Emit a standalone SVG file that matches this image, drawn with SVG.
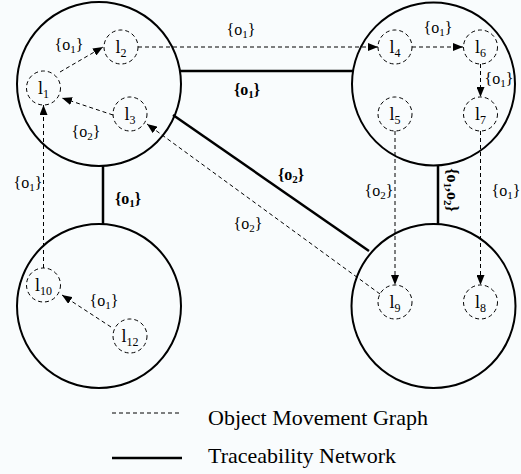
<svg xmlns="http://www.w3.org/2000/svg" width="521" height="474" viewBox="0 0 521 474">
<style>
.bg{fill:#f9fcfd}
.big{fill:none;stroke:#000;stroke-width:2}
.loc{fill:none;stroke:#000;stroke-width:1;stroke-dasharray:4 3}
.dash{fill:none;stroke:#000;stroke-width:1;stroke-dasharray:4 3}
.solid{fill:none;stroke:#000;stroke-width:2.5}
text{font-family:"Liberation Serif","Times New Roman","DejaVu Serif",serif;fill:#000}
.nl{font-size:18px;text-anchor:middle}
.sub{font-size:12px}
.lab{font-size:16px;text-anchor:middle}
.lsub{font-size:11px}
.bl{font-size:16px;font-weight:bold;text-anchor:middle}
.leg{font-size:22px}
</style>
<defs>
<marker id="ah" markerWidth="10" markerHeight="8" refX="10" refY="4" orient="auto" markerUnits="userSpaceOnUse">
<path d="M0,0 L10,4 L0,8 z" fill="#000"/>
</marker>
</defs>
<rect class="bg" x="0" y="0" width="521" height="474"/>

<g id="connectors">
<line class="solid" x1="180" y1="71" x2="353" y2="71"/>
<line class="solid" x1="103" y1="166" x2="103" y2="225"/>
<line class="solid" x1="438" y1="165" x2="438" y2="225"/>
<line class="solid" x1="173" y1="115" x2="369" y2="251"/>
<line class="dash" x1="60" y1="72" x2="103" y2="47" marker-end="url(#ah)"/>
<line class="dash" x1="113" y1="115" x2="62" y2="98" marker-end="url(#ah)"/>
<line class="dash" x1="138" y1="47" x2="378" y2="47" marker-end="url(#ah)"/>
<line class="dash" x1="412" y1="47" x2="463" y2="47" marker-end="url(#ah)"/>
<line class="dash" x1="480.5" y1="64" x2="480.5" y2="97" marker-end="url(#ah)"/>
<line class="dash" x1="395" y1="131" x2="395" y2="285" marker-end="url(#ah)"/>
<line class="dash" x1="480.5" y1="131" x2="480.5" y2="285" marker-end="url(#ah)"/>
<line class="dash" x1="43.5" y1="268" x2="43.5" y2="105" marker-end="url(#ah)"/>
<line class="dash" x1="111" y1="327" x2="62" y2="295" marker-end="url(#ah)"/>
<line class="dash" x1="380" y1="294" x2="147" y2="124" marker-end="url(#ah)"/>
<text class="bl" x="247" y="95">{o<tspan class="lsub" dy="3">1</tspan><tspan dy="-3">}</tspan></text>
<text class="bl" x="128" y="204">{o<tspan class="lsub" dy="3">1</tspan><tspan dy="-3">}</tspan></text>
<text class="bl" x="291" y="180">{o<tspan class="lsub" dy="3">2</tspan><tspan dy="-3">}</tspan></text>
<text class="bl" transform="translate(447,190) rotate(90)" x="0" y="0">{o<tspan class="lsub" dy="3">1</tspan><tspan dy="-3">,o</tspan><tspan class="lsub" dy="3">2</tspan><tspan dy="-3">}</tspan></text>
<text class="lab" x="69" y="50">{o<tspan class="lsub" dy="3">1</tspan><tspan dy="-3">}</tspan></text>
<text class="lab" x="86" y="137">{o<tspan class="lsub" dy="3">2</tspan><tspan dy="-3">}</tspan></text>
<text class="lab" x="28" y="188">{o<tspan class="lsub" dy="3">1</tspan><tspan dy="-3">}</tspan></text>
<text class="lab" x="241" y="35">{o<tspan class="lsub" dy="3">1</tspan><tspan dy="-3">}</tspan></text>
<text class="lab" x="438" y="33">{o<tspan class="lsub" dy="3">1</tspan><tspan dy="-3">}</tspan></text>
<text class="lab" x="499" y="84">{o<tspan class="lsub" dy="3">1</tspan><tspan dy="-3">}</tspan></text>
<text class="lab" x="379" y="196">{o<tspan class="lsub" dy="3">2</tspan><tspan dy="-3">}</tspan></text>
<text class="lab" x="506" y="196">{o<tspan class="lsub" dy="3">1</tspan><tspan dy="-3">}</tspan></text>
<text class="lab" x="248" y="229">{o<tspan class="lsub" dy="3">2</tspan><tspan dy="-3">}</tspan></text>
<text class="lab" x="104" y="306">{o<tspan class="lsub" dy="3">1</tspan><tspan dy="-3">}</tspan></text>
</g>

<g id="site-tl"><circle class="big" cx="99" cy="84" r="82"/></g>
<g id="site-tr"><circle class="big" cx="433.5" cy="84" r="81.5"/></g>
<g id="site-bl"><circle class="big" cx="99" cy="306" r="82"/></g>
<g id="site-br"><circle class="big" cx="433.5" cy="306" r="82"/></g>

<g id="l1"><circle class="loc" cx="43.5" cy="88" r="17"/><text class="nl" x="43.5" y="94">l<tspan class="sub" dy="4">1</tspan></text></g>
<g id="l2"><circle class="loc" cx="121" cy="47" r="17"/><text class="nl" x="121" y="53">l<tspan class="sub" dy="4">2</tspan></text></g>
<g id="l3"><circle class="loc" cx="130" cy="114" r="17"/><text class="nl" x="130" y="120">l<tspan class="sub" dy="4">3</tspan></text></g>
<g id="l4"><circle class="loc" cx="395" cy="47" r="17"/><text class="nl" x="395" y="53">l<tspan class="sub" dy="4">4</tspan></text></g>
<g id="l6"><circle class="loc" cx="480.5" cy="47" r="17"/><text class="nl" x="480.5" y="53">l<tspan class="sub" dy="4">6</tspan></text></g>
<g id="l5"><circle class="loc" cx="395" cy="114" r="17"/><text class="nl" x="395" y="120">l<tspan class="sub" dy="4">5</tspan></text></g>
<g id="l7"><circle class="loc" cx="480.5" cy="114" r="17"/><text class="nl" x="480.5" y="120">l<tspan class="sub" dy="4">7</tspan></text></g>
<g id="l9"><circle class="loc" cx="395" cy="302" r="17"/><text class="nl" x="395" y="308">l<tspan class="sub" dy="4">9</tspan></text></g>
<g id="l8"><circle class="loc" cx="480.5" cy="302" r="17"/><text class="nl" x="480.5" y="308">l<tspan class="sub" dy="4">8</tspan></text></g>
<g id="l10"><circle class="loc" cx="43.5" cy="285" r="17"/><text class="nl" x="43.5" y="291">l<tspan class="sub" dy="4">10</tspan></text></g>
<g id="l12"><circle class="loc" cx="130" cy="336" r="17"/><text class="nl" x="130" y="342">l<tspan class="sub" dy="4">12</tspan></text></g>

<g id="legend">
<line class="dash" x1="112" y1="413" x2="182" y2="413"/>
<line class="solid" x1="112" y1="458" x2="182" y2="458"/>
<text class="leg" x="208" y="425">Object Movement Graph</text>
<text class="leg" x="208" y="463">Traceability Network</text>
</g>
</svg>
